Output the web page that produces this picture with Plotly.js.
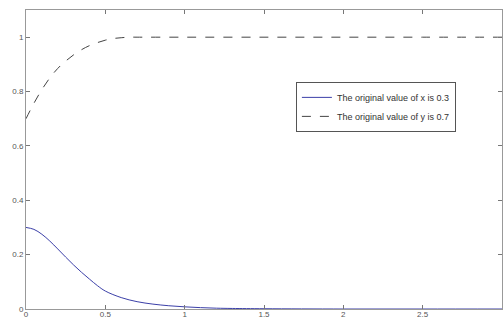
<!DOCTYPE html>
<html><head><meta charset="utf-8">
<script src="https://cdn.plot.ly/plotly-3.0.1.min.js"></script>
<style>html,body{margin:0;padding:0;background:#fff}#c{width:504px;height:321px}</style>
</head><body><div id="c"></div>
<script>
const tX = [0,0.05,0.1,0.15,0.2,0.25,0.3,0.35,0.4,0.45,0.5,0.6,0.7,0.8,0.9,1.0,1.1,1.2,1.3,1.5,2,2.5,3];
const xVals = [0.300,0.293,0.275,0.250,0.221,0.191,0.162,0.135,0.110,0.086,0.066,0.042,0.027,0.018,0.012,0.008,0.005,0.003,0.002,0.001,0,0,0];
const tY = [0,0.05,0.1,0.15,0.2,0.25,0.3,0.35,0.4,0.45,0.5,0.55,0.6,0.65,0.7,1,1.5,2,2.5,3];
const yVals = [0.70,0.757,0.807,0.850,0.885,0.912,0.935,0.954,0.969,0.980,0.989,0.995,0.998,1.0,1.0,1.0,1.0,1.0,1.0,1.0];
const names = ["The original value of x is 0.3","The original value of y is 0.7"];
const xTicks = [0,0.5,1,1.5,2,2.5,3];
const yTicks = [0,0.2,0.4,0.6,0.8,1];

const data = [
  {x:tX, y:xVals, mode:'lines', name:names[0], line:{color:'#3b3fa8', width:1, shape:'spline'}},
  {x:tY, y:yVals, mode:'lines', name:names[1], line:{color:'#444444', width:1, dash:'dash', shape:'spline'}}
];
const axisCommon = {showgrid:false, zeroline:false, showline:true, linecolor:'#999', linewidth:1,
  mirror:'ticks', ticks:'inside', ticklen:4, tickcolor:'#777',
  tickfont:{family:'Liberation Sans, Arial', size:8, color:'#555'}};
const layout = {
  width:504, height:321,
  margin:{l:26, r:2, t:10, b:12},
  paper_bgcolor:'#fff', plot_bgcolor:'#fff',
  showlegend:true,
  legend:{x:0.567, y:0.676, xanchor:'left', yanchor:'middle', bgcolor:'#fff', bordercolor:'#555', borderwidth:1,
    font:{family:'Liberation Sans, Arial', size:9, color:'#333'}, tracegroupgap:0, itemwidth:30},
  xaxis:Object.assign({range:[0,3], tickvals:xTicks, ticktext:xTicks.map(String), ticklabelstandoff:-3}, axisCommon),
  yaxis:Object.assign({range:[0,1.1], tickvals:yTicks, ticktext:yTicks.map(String)}, axisCommon)
};
Plotly.newPlot('c', data, layout, {displayModeBar:false, staticPlot:true});
</script></body></html>
